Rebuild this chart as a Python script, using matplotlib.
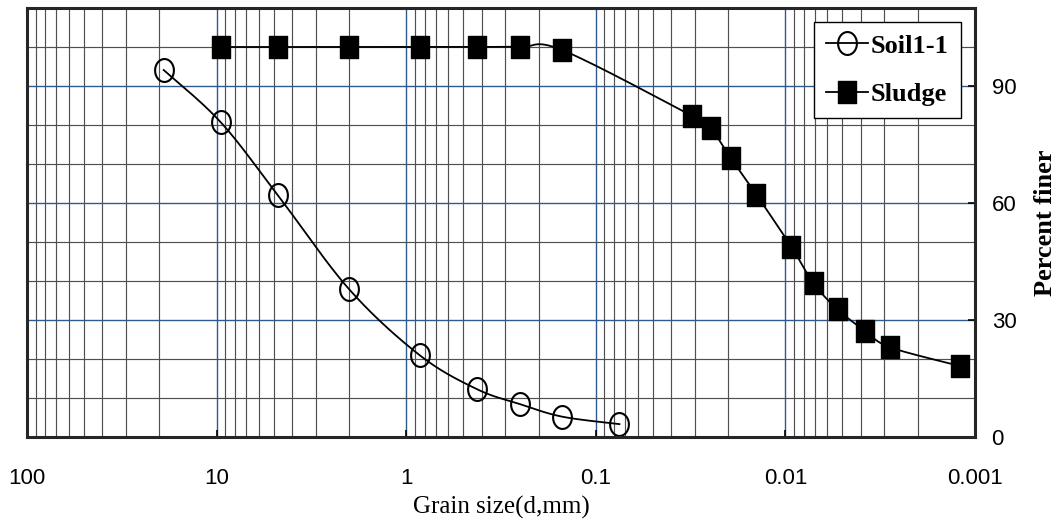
import numpy as np
import matplotlib
matplotlib.use("Agg")
import matplotlib.pyplot as plt
from matplotlib.path import Path
from matplotlib.ticker import FixedLocator, FuncFormatter

# sieve / hydrometer results, grain size in mm, percent finer
soil_d = [19.0, 9.5, 4.75, 2.0, 0.85, 0.425, 0.25, 0.15, 0.075]
soil_p = [94.1, 80.7, 62.0, 37.9, 21.0, 12.3, 8.4, 5.2, 3.3]

sludge_d = [9.5, 4.75, 2.0, 0.85, 0.425, 0.25, 0.15, 0.031, 0.0248, 0.0194,
            0.0142, 0.0093, 0.0071, 0.0053, 0.0038, 0.0028, 0.0012]
sludge_p = [100, 100, 100, 100, 100, 100, 99.2, 82.3, 79.2, 71.5,
            62.1, 48.8, 39.4, 32.7, 27.2, 23.0, 18.2]

x_ticks = [100, 10, 1, 0.1, 0.01, 0.001]
y_ticks = [0, 30, 60, 90]


def smooth(d, p, n=30):
    # Excel-style smoothed line: cubic bezier through points (log x, y)
    pts = np.column_stack([np.log10(d), p])
    m = len(pts)
    t = np.linspace(0, 1, n)[:, None]
    segs = []
    for i in range(m - 1):
        p0 = pts[max(i - 1, 0)]
        p1 = pts[i]
        p2 = pts[i + 1]
        p3 = pts[min(i + 2, m - 1)]
        c1 = p1 + (p2 - p0) / 6
        c2 = p2 - (p3 - p1) / 6
        seg = (1 - t) ** 3 * p1 + 3 * (1 - t) ** 2 * t * c1 + 3 * (1 - t) * t ** 2 * c2 + t ** 3 * p2
        segs.append(seg if i == 0 else seg[1:])
    s = np.vstack(segs)
    return 10 ** s[:, 0], s[:, 1]


# slightly tall markers
th = np.linspace(0, 2 * np.pi, 60)
oval = Path(np.column_stack([0.41 * np.cos(th), 0.5 * np.sin(th)]), closed=True)
box = Path([(-0.39, -0.5), (0.39, -0.5), (0.39, 0.5), (-0.39, 0.5), (-0.39, -0.5)], closed=True)

fig = plt.figure(figsize=(10.61, 5.27), dpi=100)
ax = fig.add_axes([0.0254, 0.1708, 0.8935, 0.814])

ax.set_xscale("log")
ax.set_xlim(100, 0.001)
ax.set_ylim(0, 110)

# grid
ax.xaxis.set_major_locator(FixedLocator(x_ticks))
ax.xaxis.set_minor_locator(FixedLocator([k * 10.0 ** e for e in range(-3, 2) for k in range(2, 10)]))
ax.yaxis.set_major_locator(FixedLocator(y_ticks))
ax.yaxis.set_minor_locator(FixedLocator([10, 20, 40, 50, 70, 80, 100]))
ax.grid(True, which="major", color="#2f5a8f", lw=1.0)
ax.grid(True, which="minor", color="#505050", lw=0.85)
ax.set_axisbelow(True)

sx, sy = smooth(soil_d, soil_p)
ax.plot(sx, sy, color="black", lw=1.3, zorder=3)
ax.plot(soil_d, soil_p, ls="none", marker=oval, ms=16.5, mfc="none", mec="black", mew=1.5, zorder=4)
gx, gy = smooth(sludge_d, sludge_p)
ax.plot(gx, gy, color="black", lw=1.3, zorder=3)
ax.plot(sludge_d, sludge_p, ls="none", marker=box, ms=16, mfc="black", mec="black", zorder=4)

# legend entries
h1, = ax.plot([], [], color="black", lw=1.3, marker=oval, ms=16.5, mfc="none", mec="black", mew=1.5, label="Soil1-1")
h2, = ax.plot([], [], color="black", lw=1.3, marker=box, ms=16, mfc="black", mec="black", label="Sludge")
leg = ax.legend(handles=[h1, h2], loc="upper right", bbox_to_anchor=(0.985, 0.967),
                prop={"family": "Liberation Serif", "weight": "bold", "size": 19},
                frameon=True, fancybox=False, framealpha=1, edgecolor="black",
                handlelength=1.6, handletextpad=0.12, labelspacing=0.95,
                borderpad=0.45, borderaxespad=0, numpoints=1)
leg.get_frame().set_linewidth(1.0)
leg.set_zorder(5)

ax.xaxis.set_major_formatter(FuncFormatter(lambda v, pos: "%g" % v))
ax.tick_params(axis="x", which="major", direction="in", length=5, width=1.2, pad=22,
               labelsize=16, colors="black")
ax.tick_params(axis="y", which="major", direction="in", length=5, width=1.2, pad=12,
               labelsize=16, left=False, right=True, labelleft=False, labelright=True)
ax.tick_params(which="minor", length=0)
for lbl in ax.get_xticklabels() + ax.get_yticklabels():
    lbl.set_fontfamily("Liberation Sans")

for sp in ax.spines.values():
    sp.set_linewidth(2.2)
    sp.set_color("#262626")
    sp.set_zorder(6)

ax.set_xlabel("Grain size(d,mm)", family="Liberation Serif", fontsize=18, labelpad=5)
ax.yaxis.set_label_position("right")
ax.set_ylabel("Percent finer", family="Liberation Serif", weight="bold", fontsize=19, labelpad=13)

fig.savefig("out.png", dpi=100)
